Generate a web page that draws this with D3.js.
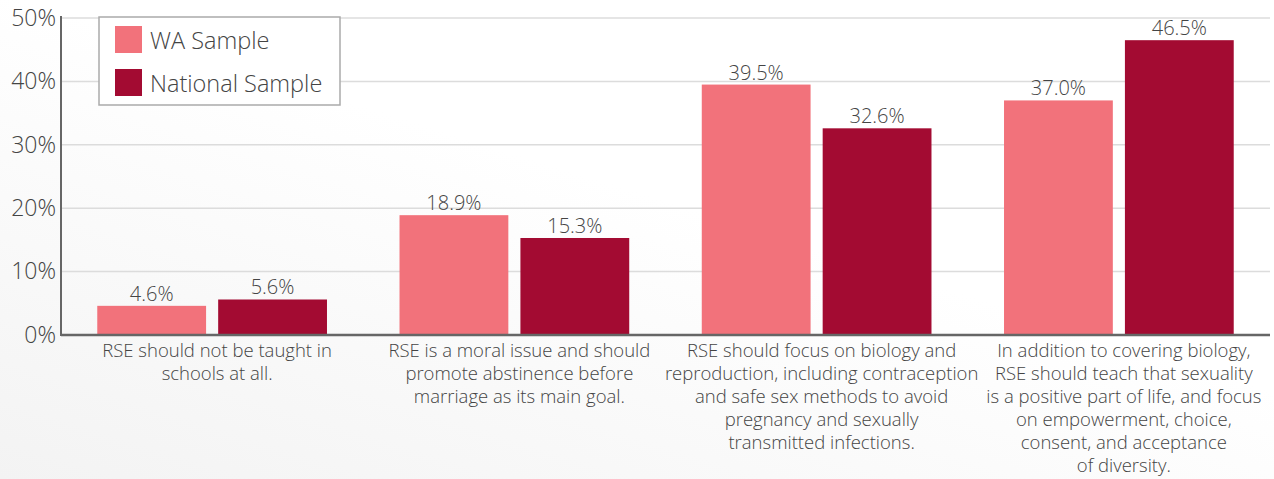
<!DOCTYPE html>
<html lang="en">
<head>
<meta charset="UTF-8">
<script src="https://d3js.org/d3.v7.min.js"></script>
<style>
  body { margin: 0; background: #fff; }
  svg text { font-family: "Open Sans", Lato, sans-serif; font-weight: 300; fill: #444; }
</style>
</head>
<body>
<script>
  var width = 1274, height = 479;

  // data
  var categories = ["g1", "g2", "g3", "g4"];
  var categoryLines = [
    ["RSE should not be taught in", "schools at all."],
    ["RSE is a moral issue and should", "promote abstinence before", "marriage as its main goal."],
    ["RSE should focus on biology and", "reproduction, including contraception", "and safe sex methods to avoid", "pregnancy and sexually", "transmitted infections."],
    ["In addition to covering biology,", "RSE should teach that sexuality", "is a positive part of life, and focus", "on empowerment, choice,", "consent, and acceptance", "of diversity."]
  ];
  var seriesNames = ["WA Sample", "National Sample"];
  var waValues = [4.6, 18.9, 39.5, 37.0];
  var nationalValues = [5.6, 15.3, 32.6, 46.5];
  var yTicks = [0, 10, 20, 30, 40, 50];
  var colors = ["#f2727b", "#a30b32"];

  var svg = d3.select("body").append("svg")
      .attr("width", width)
      .attr("height", height);

  // faint background shading
  var defs = svg.append("defs");
  var grad = defs.append("linearGradient").attr("id", "bg")
      .attr("x1", "0").attr("y1", "1").attr("x2", "0.5").attr("y2", "0.4");
  grad.append("stop").attr("offset", "0").attr("stop-color", "#f3f3f3");
  grad.append("stop").attr("offset", "1").attr("stop-color", "#ffffff");
  svg.append("rect").attr("width", width).attr("height", height).attr("fill", "url(#bg)");

  var mLeft = 61, mRight = 1270, mTop = 18, mBottom = 335;

  var x0 = d3.scaleBand().domain(categories).range([mLeft, mRight]).padding(0);
  var x1 = d3.scaleBand().domain([0, 1]).range([0, x0.bandwidth()])
      .paddingInner(0.1).paddingOuter(0.3);
  var y = d3.scaleLinear().domain([0, 50]).range([mBottom, mTop]);

  // gridlines
  svg.append("g").selectAll("line").data(yTicks.slice(1)).join("line")
      .attr("x1", mLeft).attr("x2", mRight)
      .attr("y1", d => y(d)).attr("y2", d => y(d))
      .attr("stroke", "#dcdcdc").attr("stroke-width", 1.5);

  // y axis
  var yAxis = d3.axisLeft(y).tickValues(yTicks).tickSize(0).tickPadding(5)
      .tickFormat(d => d + "%");
  var yg = svg.append("g").attr("transform", "translate(" + mLeft + ",0)").call(yAxis);
  yg.select(".domain").remove();
  yg.attr("font-family", null).attr("font-size", null);
  yg.selectAll("text").style("font-size", "23px").attr("fill", "#444");

  // bars
  var rows = categories.map((c, i) => ({ cat: c, i: i, vals: [waValues[i], nationalValues[i]] }));
  var groups = svg.append("g").selectAll("g").data(rows).join("g")
      .attr("transform", d => "translate(" + x0(d.cat) + ",0)");

  groups.selectAll("rect").data(d => d.vals.map((v, k) => ({ v: v, k: k }))).join("rect")
      .attr("x", d => x1(d.k))
      .attr("y", d => y(d.v))
      .attr("width", x1.bandwidth())
      .attr("height", d => y(0) - y(d.v))
      .attr("fill", d => colors[d.k]);

  groups.selectAll("text.val").data(d => d.vals.map((v, k) => ({ v: v, k: k }))).join("text")
      .attr("class", "val")
      .attr("x", d => x1(d.k) + x1.bandwidth() / 2)
      .attr("y", d => y(d.v) - 5)
      .attr("text-anchor", "middle")
      .style("font-size", "20px")
      .text(d => d.v.toFixed(1) + "%");

  // axis lines
  svg.append("line").attr("x1", mLeft).attr("x2", mLeft).attr("y1", mTop - 2).attr("y2", mBottom + 1)
      .attr("stroke", "#666").attr("stroke-width", 2);
  svg.append("line").attr("x1", mLeft).attr("x2", mRight).attr("y1", mBottom).attr("y2", mBottom)
      .attr("stroke", "#666").attr("stroke-width", 2.5);

  // category labels
  groups.each(function(d) {
    var cx = x0.bandwidth() / 2 + 5;
    var t = d3.select(this).append("text")
        .attr("text-anchor", "middle")
        .attr("x", cx)
        .attr("y", mBottom + 22)
        .style("font-size", "18.5px");
    categoryLines[d.i].forEach((line, j) => {
      t.append("tspan").attr("x", cx).attr("dy", j === 0 ? 0 : 23).text(line);
    });
  });

  // legend
  var lg = svg.append("g").attr("transform", "translate(99,17)");
  lg.append("rect").attr("width", 241).attr("height", 88)
      .attr("fill", "#fff").attr("stroke", "#aaa").attr("stroke-width", 1.5);
  seriesNames.forEach((name, i) => {
    lg.append("rect").attr("x", 16).attr("y", 9 + i * 43).attr("width", 27).attr("height", 27)
        .attr("fill", colors[i]);
    lg.append("text").attr("x", 51).attr("y", 32 + i * 43)
        .style("font-size", "23.5px").text(name);
  });
</script>
</body>
</html>
